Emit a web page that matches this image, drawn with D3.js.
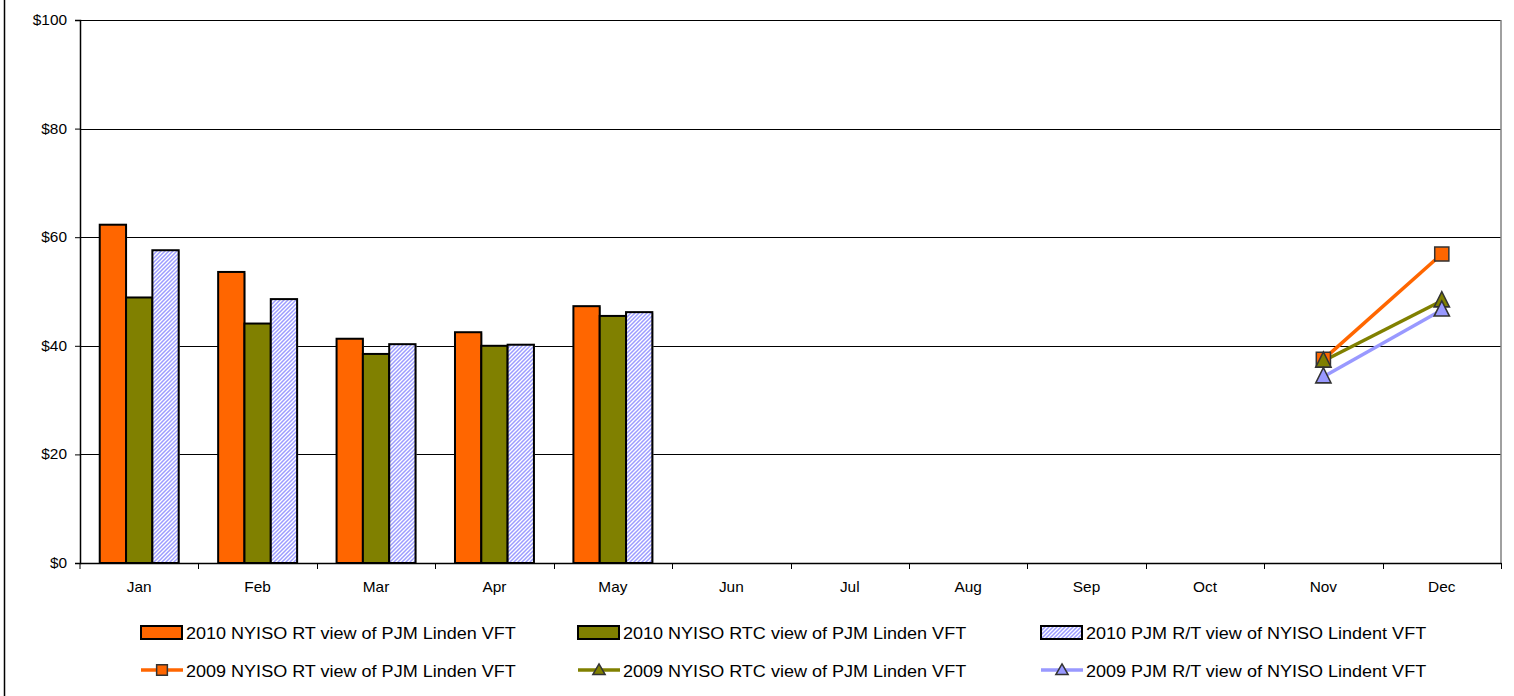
<!DOCTYPE html>
<html><head><meta charset="utf-8">
<script src="https://cdn.jsdelivr.net/npm/d3@7"></script>
<style>body{margin:0;background:#fff}svg{display:block}text{font-family:Arial,"Liberation Sans",sans-serif;fill:#000}</style>
</head><body>
<svg id="c" width="1514" height="696"></svg>
<script>
const months = ["Jan","Feb","Mar","Apr","May","Jun","Jul","Aug","Sep","Oct","Nov","Dec"];
const yTicks = [0,20,40,60,80,100];
const barSeriesNames = ["2010 NYISO RT view of PJM Linden VFT","2010 NYISO RTC view of PJM Linden VFT","2010 PJM R/T view of NYISO Lindent VFT"];
const lineSeriesNames = ["2009 NYISO RT view of PJM Linden VFT","2009 NYISO RTC view of PJM Linden VFT","2009 PJM R/T view of NYISO Lindent VFT"];
const rt2010  = [62.3,53.6,41.3,42.5,47.3,null,null,null,null,null,null,null];
const rtc2010 = [48.9,44.1,38.5,40.0,45.5,null,null,null,null,null,null,null];
const pjm2010 = [57.6,48.6,40.3,40.2,46.2,null,null,null,null,null,null,null];
const rt2009  = [null,null,null,null,null,null,null,null,null,null,37.5,56.9];
const rtc2009 = [null,null,null,null,null,null,null,null,null,null,37.2,48.3];
const pjm2009 = [null,null,null,null,null,null,null,null,null,null,34.3,46.6];

const svg = d3.select("#c");
const L=80, R=1501, T=20, B=563;
const SX = 1.1; // horizontal text stretch seen in reference
const defs = svg.append("defs");
const pat = defs.append("pattern").attr("id","hatch").attr("patternUnits","userSpaceOnUse")
  .attr("width",4).attr("height",4);
pat.append("rect").attr("width",4).attr("height",4).attr("fill","#ffffff");
pat.append("path").attr("d","M-1,1 l2,-2 M0,4 l4,-4 M3,5 l2,-2").attr("stroke","#9c9cff").attr("stroke-width",1.5);

// outer border (left)
svg.append("line").attr("x1",4.5).attr("x2",4.5).attr("y1",0).attr("y2",696).attr("stroke","#000").attr("stroke-width",1.5);

const x = d3.scaleBand().domain(months).range([L,R]).paddingInner(0).paddingOuter(0);
const y = d3.scaleLinear().domain([0,100]).range([B,T]);
const xs = d3.scaleBand().domain([0,1,2]).range([0, x.bandwidth()*2/3]);

// gridlines
svg.append("g").selectAll("line").data(yTicks.filter(d=>d>0)).join("line")
  .attr("x1",L).attr("x2",R).attr("y1",d=>Math.round(y(d))+0.5).attr("y2",d=>Math.round(y(d))+0.5)
  .attr("stroke","#000").attr("stroke-width",1);
// right border of plot
svg.append("line").attr("x1",R).attr("x2",R).attr("y1",T).attr("y2",B).attr("stroke","#808080").attr("stroke-width",1.5);

// bars
const barSeries = [
  {vals:rt2010, fill:"#ff6600"},
  {vals:rtc2010, fill:"#808000"},
  {vals:pjm2010, fill:"url(#hatch)"}
];
const gb = svg.append("g");
barSeries.forEach((s,i)=>{
  const data = months.map((m,j)=>({m,v:s.vals[j]})).filter(d=>d.v!=null);
  gb.selectAll(null).data(data).join("rect")
    .attr("x",d=>x(d.m)+x.bandwidth()/6+xs(i)+1)
    .attr("y",d=>y(d.v)+1)
    .attr("width",xs.bandwidth())
    .attr("height",d=>B-y(d.v))
    .attr("fill","#aaa");
  gb.selectAll(null).data(data).join("rect")
    .attr("x",d=>x(d.m)+x.bandwidth()/6+xs(i))
    .attr("y",d=>y(d.v))
    .attr("width",xs.bandwidth())
    .attr("height",d=>B-y(d.v))
    .attr("fill",s.fill).attr("stroke","#000").attr("stroke-width",2);
});

// axes
const yAxis = d3.axisLeft(y).tickValues(yTicks).tickSize(5).tickFormat(d=>"$"+d);
const gy = svg.append("g").attr("transform",`translate(${L},0)`).call(yAxis);
gy.select(".domain").attr("stroke","#000").attr("stroke-width",1.5);
gy.selectAll(".tick line").attr("stroke","#000");
gy.selectAll("text").attr("font-size",14).attr("font-family","Arial").attr("x",0)
  .attr("transform",`translate(-13,0) scale(${SX},1)`);

const gx = svg.append("g").attr("transform",`translate(0,${B})`).call(d3.axisBottom(x).tickSize(0).tickPadding(19));
gx.select(".domain").attr("stroke","#000").attr("stroke-width",1.5);
gx.selectAll("text").attr("font-size",14).attr("font-family","Arial").attr("transform",`scale(${SX},1)`);
// category boundary ticks
svg.append("g").selectAll("line").data(months).join("line")
  .attr("x1",(d,i)=>Math.round(L+x.bandwidth()*(i+1))+0.5).attr("x2",(d,i)=>Math.round(L+x.bandwidth()*(i+1))+0.5)
  .attr("y1",B).attr("y2",B+6).attr("stroke","#000").attr("stroke-width",1);
svg.append("line").attr("x1",L).attr("x2",L).attr("y1",B).attr("y2",B+6).attr("stroke","#000");

// lines
const lineSeries = [
  {vals:rt2009, color:"#ff6600", marker:"square"},
  {vals:rtc2009, color:"#808000", marker:"triangle"},
  {vals:pjm2009, color:"#9999ff", marker:"triangle"}
];
const cx = m => x(m)+x.bandwidth()/2;
const line = d3.line().defined(d=>d.v!=null).x(d=>cx(d.m)).y(d=>y(d.v));
const gl = svg.append("g");
lineSeries.forEach(s=>{
  const data = months.map((m,j)=>({m,v:s.vals[j]}));
  gl.append("path").datum(data).attr("d",line).attr("fill","none").attr("stroke",s.color).attr("stroke-width",3.5);
});
const sym = {square:d3.symbol(d3.symbolSquare,200), triangle:d3.symbol(d3.symbolTriangle,100)};
lineSeries.forEach(s=>{
  const data = months.map((m,j)=>({m,v:s.vals[j]})).filter(d=>d.v!=null);
  gl.selectAll(null).data(data).join("path")
    .attr("transform",d=>`translate(${cx(d.m)},${y(d.v)+(s.marker==="triangle"?1:0)}) scale(1,${s.marker==="triangle"?1.15:1})`)
    .attr("d",sym[s.marker]()).attr("fill",s.color).attr("stroke","#333").attr("stroke-width",1.5);
});

// legend
const colX = [141,578,1041];
const lg = svg.append("g");
barSeries.forEach((s,i)=>{
  lg.append("rect").attr("x",colX[i]).attr("y",626).attr("width",41).attr("height",13)
    .attr("fill",s.fill).attr("stroke","#000").attr("stroke-width",2);
  lg.append("text").attr("transform",`translate(${colX[i]+45},638.5) scale(${SX},1)`)
    .attr("font-size",16.4).text(barSeriesNames[i]);
});
lineSeries.forEach((s,i)=>{
  lg.append("line").attr("x1",colX[i]).attr("x2",colX[i]+42).attr("y1",670).attr("y2",670)
    .attr("stroke",s.color).attr("stroke-width",3.5);
  const sz = s.marker==="square"?115:65;
  lg.append("path").attr("transform",`translate(${colX[i]+21},${670+(s.marker==="triangle"?1:0)})`)
    .attr("d",d3.symbol(s.marker==="square"?d3.symbolSquare:d3.symbolTriangle,sz)())
    .attr("fill",s.color).attr("stroke","#333").attr("stroke-width",1.5);
  lg.append("text").attr("transform",`translate(${colX[i]+45},676.5) scale(${SX},1)`)
    .attr("font-size",16.4).text(lineSeriesNames[i]);
});
</script>
</body></html>
